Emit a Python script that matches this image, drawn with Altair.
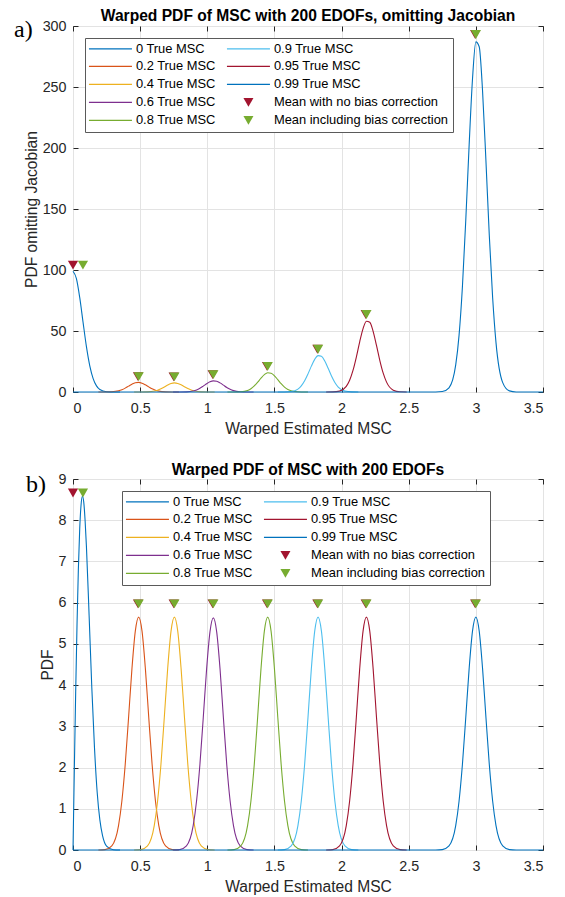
import altair as alt
import pandas as pd

FONT = "Liberation Sans"
SERIF = "Liberation Serif"
NB = "\u00a0"
AX = "#262626"

# ---- series names ----
S00 = NB + NB + "0 True MSC"
S02 = "0.2 True MSC"
S04 = "0.4 True MSC"
S06 = "0.6 True MSC"
S08 = "0.8 True MSC"
S09 = NB + "0.9 True MSC"
S095 = "0.95 True MSC"
S099 = "0.99 True MSC"
M_NB = "Mean with no bias correction"
M_BC = "Mean including bias correction"

legend_order = [S00, S02, S04, S06, S08, S09, S095, S099, M_NB, M_BC]
legend_colors = ["#0072BD", "#D95319", "#EDB120", "#7E2F8E", "#77AC30",
                 "#4DBEEE", "#A2142F", "#0072BD", "#A2142F", "#77AC30"]
LINE = "M-4.3,-0.12H4.3V0.12H-4.3Z"
legend_shapes = [LINE, LINE, LINE, LINE, LINE, LINE, LINE, LINE,
                 "triangle-down", "triangle-down"]

x_ticks = [0, 0.5, 1, 1.5, 2, 2.5, 3, 3.5]
y_ticks_a = [0, 50, 100, 150, 200, 250, 300]
y_ticks_b = [0, 1, 2, 3, 4, 5, 6, 7, 8, 9]

# ---- curve x positions ----
x00_a = [0, 0.025, 0.05, 0.075, 0.1, 0.125, 0.15, 0.175, 0.2, 0.25, 0.3, 0.35]
x00_b = [0, 0.01, 0.02, 0.03, 0.04, 0.05, 0.06, 0.07, 0.08, 0.09, 0.10, 0.12,
         0.14, 0.16, 0.18, 0.20, 0.22, 0.25, 0.3, 0.35]
x02 = [0.189, 0.239, 0.289, 0.339, 0.364, 0.389, 0.414, 0.439, 0.464, 0.489,
       0.514, 0.539, 0.564, 0.589, 0.614, 0.639, 0.689, 0.739, 0.789]
x04 = [0.455, 0.505, 0.555, 0.605, 0.63, 0.655, 0.68, 0.705, 0.73, 0.755,
       0.78, 0.805, 0.83, 0.855, 0.88, 0.905, 0.955, 1.005, 1.055]
x06 = [0.745, 0.795, 0.845, 0.895, 0.92, 0.945, 0.97, 0.995, 1.02, 1.045,
       1.07, 1.095, 1.12, 1.145, 1.17, 1.195, 1.245, 1.295, 1.345]
x08 = [1.15, 1.2, 1.25, 1.3, 1.325, 1.35, 1.375, 1.4, 1.425, 1.45,
       1.475, 1.5, 1.525, 1.55, 1.575, 1.6, 1.65, 1.7, 1.75]
x09 = [1.525, 1.575, 1.625, 1.675, 1.7, 1.725, 1.75, 1.775, 1.8, 1.825,
       1.85, 1.875, 1.9, 1.925, 1.95, 1.975, 2.025, 2.075, 2.125]
x095 = [1.885, 1.935, 1.985, 2.035, 2.06, 2.085, 2.11, 2.135, 2.16, 2.185,
        2.21, 2.235, 2.26, 2.285, 2.31, 2.335, 2.385, 2.435, 2.485]
x099 = [0.0, 2.7, 2.75, 2.8, 2.85, 2.875, 2.9, 2.925, 2.95, 2.975, 3.0,
        3.025, 3.05, 3.075, 3.1, 3.125, 3.15, 3.2, 3.25, 3.3, 3.5]

# ---- panel a) values: PDF omitting Jacobian ----
y00_a = [99.0, 93.1, 77.5, 57.1, 37.2, 21.5, 11.0, 5.0, 2.03, 0.23, 0.02, 0.0]
y02_a = [0.0, 0.02, 0.17, 0.95, 1.85, 3.18, 4.81, 6.44, 7.59, 7.90,
         7.25, 5.88, 4.21, 2.66, 1.48, 0.72, 0.12, 0.01, 0.0]
y04_a = [0.0, 0.01, 0.13, 0.75, 1.50, 2.65, 4.14, 5.70, 6.93, 7.44,
         7.04, 5.89, 4.34, 2.83, 1.62, 0.82, 0.14, 0.02, 0.0]
y06_a = [0.0, 0.01, 0.13, 0.82, 1.68, 3.02, 4.81, 6.74, 8.34, 9.11,
         8.78, 7.47, 5.61, 3.72, 2.18, 1.12, 0.20, 0.02, 0.0]
y08_a = [0.0, 0.02, 0.21, 1.31, 2.73, 4.97, 8.01, 11.38, 14.27, 15.8,
         15.43, 13.30, 10.12, 6.80, 4.03, 2.10, 0.39, 0.05, 0.0]
y09_a = [0.0, 0.04, 0.37, 2.39, 5.00, 9.17, 14.85, 21.22, 26.75, 29.8,
         29.27, 25.40, 19.43, 13.12, 7.83, 4.09, 0.77, 0.09, 0.01]
y095_a = [0.0, 0.07, 0.71, 4.58, 9.61, 17.65, 28.66, 41.12, 51.96, 58.0,
          57.13, 49.70, 38.12, 25.81, 15.44, 8.10, 1.53, 0.19, 0.02]
y099_a = [0.0, 0.02, 0.35, 3.44, 22.2, 46.6, 86.5, 141.0, 202.5, 256.5, 287.0,
          283.0, 246.5, 189.5, 128.5, 77.2, 40.5, 7.7, 0.94, 0.06, 0.0]

# ---- panel b) values: PDF ----
y00_b = [0.0, 1.98, 3.84, 5.48, 6.82, 7.79, 8.37, 8.58, 8.44, 8.00, 7.36, 5.69,
         3.94, 2.48, 1.40, 0.73, 0.35, 0.096, 0.007, 0.0]
y02_b = [0.0, 0.01, 0.10, 0.59, 1.19, 2.08, 3.22, 4.40, 5.31, 5.65,
         5.31, 4.40, 3.22, 2.08, 1.19, 0.59, 0.10, 0.01, 0.0]
y04_b = [0.0, 0.01, 0.10, 0.59, 1.19, 2.08, 3.22, 4.40, 5.31, 5.65,
         5.31, 4.40, 3.22, 2.08, 1.19, 0.59, 0.10, 0.01, 0.0]
y06_b = [0.0, 0.01, 0.10, 0.59, 1.19, 2.07, 3.21, 4.39, 5.29, 5.63,
         5.29, 4.39, 3.21, 2.07, 1.19, 0.59, 0.10, 0.01, 0.0]
y08_b = [0.0, 0.01, 0.10, 0.59, 1.19, 2.08, 3.22, 4.40, 5.31, 5.65,
         5.31, 4.40, 3.22, 2.08, 1.19, 0.59, 0.10, 0.01, 0.0]
y09_b = [0.0, 0.01, 0.10, 0.59, 1.19, 2.08, 3.22, 4.40, 5.31, 5.65,
         5.31, 4.40, 3.22, 2.08, 1.19, 0.59, 0.10, 0.01, 0.0]
y095_b = [0.0, 0.01, 0.10, 0.59, 1.19, 2.08, 3.22, 4.40, 5.31, 5.65,
          5.31, 4.40, 3.22, 2.08, 1.19, 0.59, 0.10, 0.01, 0.0]
y099_b = [0.0, 0.0, 0.01, 0.10, 0.59, 1.19, 2.08, 3.22, 4.40, 5.31, 5.65,
          5.31, 4.40, 3.22, 2.08, 1.19, 0.59, 0.10, 0.01, 0.0, 0.0]

# ---- mean markers ----
mean_nb_x = [0.0, 0.484, 0.75, 1.04, 1.445, 1.82, 2.18, 2.995]
mean_bc_x = [0.074, 0.489, 0.755, 1.045, 1.45, 1.825, 2.185, 3.0]
mean_y_a = [104, 12.6, 12.4, 14.2, 21.0, 35.0, 63.5, 293]
mean_y_b = [8.66, 5.97, 5.97, 5.97, 5.97, 5.97, 5.97, 5.97]


def rows(name, xs, ys):
    return [{"series": name, "x": a, "y": b} for a, b in zip(xs, ys)]


curves_a = pd.DataFrame(
    rows(S00, x00_a, y00_a) + rows(S02, x02, y02_a) + rows(S04, x04, y04_a)
    + rows(S06, x06, y06_a) + rows(S08, x08, y08_a) + rows(S09, x09, y09_a)
    + rows(S095, x095, y095_a) + rows(S099, x099, y099_a))
curves_b = pd.DataFrame(
    rows(S00, x00_b, y00_b) + rows(S02, x02, y02_b) + rows(S04, x04, y04_b)
    + rows(S06, x06, y06_b) + rows(S08, x08, y08_b) + rows(S09, x09, y09_b)
    + rows(S095, x095, y095_b) + rows(S099, x099, y099_b))
means_a = pd.DataFrame(rows(M_NB, mean_nb_x, mean_y_a) + rows(M_BC, mean_bc_x, mean_y_a))
means_b = pd.DataFrame(rows(M_NB, mean_nb_x, mean_y_b) + rows(M_BC, mean_bc_x, mean_y_b))


def panel(curves, means, y_dom, y_vals, y_title, title, leg_x, tag, tag_x, tag_y, h):
    xs = alt.Scale(domain=[0, 3.5], nice=False, zero=False)
    ys = alt.Scale(domain=y_dom, nice=False, zero=False)
    cscale = alt.Scale(domain=legend_order, range=legend_colors)
    sscale = alt.Scale(domain=legend_order, range=legend_shapes)
    leg = alt.Legend(title=None, orient="none", legendX=leg_x, legendY=12,
                     columns=2, columnPadding=10, rowPadding=4,
                     padding=4, fillColor="white", strokeColor="#5a5a5a",
                     labelFont=FONT, labelFontSize=12.9, labelColor="black",
                     labelLimit=300, labelOffset=19, symbolOffset=15,
                     symbolSize=100, symbolStrokeWidth=0)
    marks = alt.Chart(means).mark_point(filled=True, size=105, opacity=1).encode(
        x=alt.X("x:Q", scale=xs, axis=None),
        y=alt.Y("y:Q", scale=ys, axis=None),
        color=alt.Color("series:N", scale=cscale, legend=leg),
        shape=alt.Shape("series:N", scale=sscale, legend=leg),
    )
    lines = alt.Chart(curves).mark_line(interpolate="monotone", strokeWidth=1.1).encode(
        x=alt.X("x:Q", scale=xs,
                axis=alt.Axis(values=x_ticks, format=".2~f", title="Warped Estimated MSC",
                              offset=-5, tickSize=5, labelPadding=9, titlePadding=6,
                              grid=True, domain=False)),
        y=alt.Y("y:Q", scale=ys,
                axis=alt.Axis(values=y_vals, format="d", title=y_title,
                              offset=-5, tickSize=5, labelPadding=7, titlePadding=3,
                              grid=True, domain=False)),
        color=alt.Color("series:N", scale=cscale, legend=leg),
    )
    ghost = alt.Chart(means).mark_point(opacity=0).encode(
        x=alt.X("x:Q", scale=xs,
                axis=alt.Axis(orient="top", values=x_ticks, labels=False, title=None,
                              grid=False, domain=False, offset=-5, tickSize=5)),
        y=alt.Y("y:Q", scale=ys,
                axis=alt.Axis(orient="right", values=y_vals, labels=False, title=None,
                              grid=False, domain=False, offset=-5, tickSize=5)),
    )
    label = alt.Chart(pd.DataFrame({"lab": [tag]})).mark_text(
        font=SERIF, fontSize=24, align="left", baseline="alphabetic", color="black"
    ).encode(text="lab:N", x=alt.value(tag_x), y=alt.value(tag_y))
    # first (invisible) copy of the markers fixes the legend symbol style;
    # the visible copy is drawn above the curves
    return alt.layer(marks.mark_point(filled=True, size=105, opacity=0), lines, marks, ghost, label).resolve_axis(
        x="independent", y="independent"
    ).properties(width=470, height=h, title=alt.TitleParams(title, dy=11))


top = panel(curves_a, means_a, [0, 300], y_ticks_a, "PDF omitting Jacobian",
            "Warped PDF of MSC with 200 EDOFs, omitting Jacobian", 12, "a)", -59, 11, 366)
bottom = panel(curves_b, means_b, [0, 9], y_ticks_b, "PDF",
               "Warped PDF of MSC with 200 EDOFs", 49, "b)", -47, 13, 371)

chart = alt.vconcat(top, bottom, spacing=24).resolve_scale(
    color="independent", shape="independent"
).properties(
    padding={"left": 5, "right": 5, "top": 0, "bottom": 2}
).configure_view(
    stroke=AX, strokeWidth=1
).configure_axis(
    labelFont=FONT, labelFontSize=14.3, labelColor=AX,
    titleFont=FONT, titleFontSize=15.6, titleFontWeight="normal", titleColor=AX,
    tickColor=AX, tickWidth=1, gridColor="#e3e3e3", gridWidth=1
).configure_title(
    font=FONT, fontSize=15.6, fontWeight="bold", color="black", offset=4,
    anchor="middle", frame="group"
)

chart.save("out.html", embed_options={"renderer": "svg", "actions": False})
